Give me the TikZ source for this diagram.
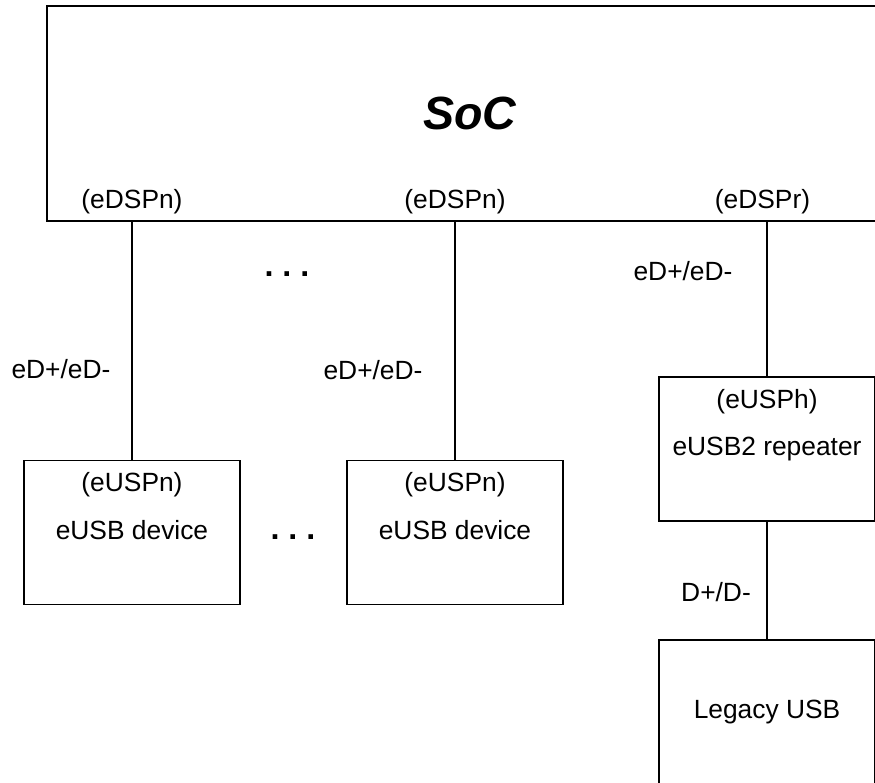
\documentclass[tikz,border=0pt]{standalone}
\usepackage{fontspec}
\setmainfont{Liberation Sans}
\usetikzlibrary{positioning}

\begin{document}
\begin{tikzpicture}[
  box/.style={draw=black, line width=0.6pt, minimum width=4.32cm,
              minimum height=2.88cm, align=center, inner sep=0pt,
              font=\fontsize{15}{18}\selectfont},
  tag/.style={font=\fontsize{15}{18}\selectfont, inner sep=1pt},
  bus/.style={draw=black, line width=0.6pt},
  gap/.style={font=\fontsize{18.4}{22}\selectfont\bfseries, inner sep=0pt},
]
  \useasboundingbox (0,0) rectangle (17.5,15.64);
  \clip (0,0) rectangle (17.5,15.64);

  % SoC block (runs past the right edge)
  \node[box, minimum width=16.92cm, minimum height=4.3cm,
        font=\fontsize{26.5}{30}\selectfont\bfseries\itshape]
       (soc) at (9.4,13.37) {SoC};

  % downstream ports on the SoC
  \node[tag] (dsp1) at (2.64,11.6)  {(eDSPn)};
  \node[tag] (dsp2) at (9.10,11.6)  {(eDSPn)};
  \node[tag] (dspr) at (15.25,11.6) {(eDSPr)};

  % eUSB devices and the repeater; the empty last line keeps the text high
  \node[box] (dev1) at (2.64,4.99)  {(eUSPn)\\[9pt]eUSB device\\[9pt]\phantom{(eUSPn)}};
  \node[box] (dev2) at (9.10,4.99)  {(eUSPn)\\[9pt]eUSB device\\[9pt]\phantom{(eUSPn)}};
  \node[box] (rep)  at (15.34,6.66) {(eUSPh)\\[9pt]eUSB2 repeater\\[9pt]\phantom{(eUSPh)}};
  \node[box] (leg)  at (15.34,1.40) {Legacy USB};

  % links
  \draw[bus] (dev1.north |- soc.south) -- (dev1.north);
  \draw[bus] (dev2.north |- soc.south) -- (dev2.north);
  \draw[bus] (rep.north |- soc.south)  -- (rep.north);
  \draw[bus] (rep.south) -- (leg.north);

  % link names
  \node[tag] (l1) at (1.22,8.26)  {eD+/eD-};
  \node[tag] (l2) at (7.46,8.24)  {eD+/eD-};
  \node[tag] (lr) at (13.66,10.22) {eD+/eD-};
  \node[tag] (ll) at (14.32,3.80) {D+/D-};

  % more ports / devices in between
  \node[gap] (more1) at (5.74,10.16) {.\ .\ .};
  \node[gap] (more2) at (5.86,4.90)  {.\ .\ .};
\end{tikzpicture}
\end{document}
